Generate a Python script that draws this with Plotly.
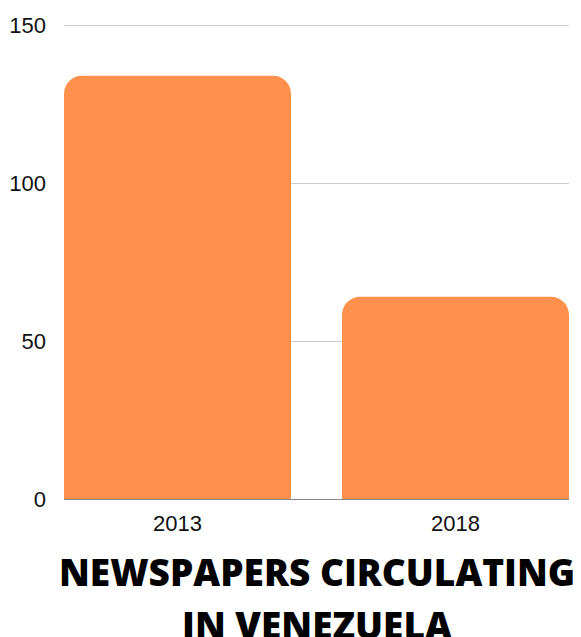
import plotly.graph_objects as go

years = ["2013", "2018"]
newspapers = [134, 64]
y_ticks = [0, 50, 100, 150]
title_lines = ["NEWSPAPERS CIRCULATING", "IN VENEZUELA"]

fig = go.Figure(go.Bar(
    x=years, y=newspapers,
    marker=dict(color="#FF914D", line=dict(width=0)),
    width=0.8165,
))

fig.update_layout(
    width=573, height=629,
    margin=dict(l=56, r=12, t=14, b=138),
    paper_bgcolor="white", plot_bgcolor="white",
    barcornerradius=18,
    showlegend=False,
    font=dict(family="Liberation Sans, Arial, sans-serif", size=22, color="#111111"),
)
fig.update_xaxes(
    type="category", range=[-0.4083, 1.4083], automargin=False,
    showline=True, linecolor="#888888", linewidth=1,
    showgrid=False, ticks="", ticklabelstandoff=5,
    tickfont=dict(size=22, color="#111111"),
)
fig.update_yaxes(
    range=[0, 151], tickvals=y_ticks, automargin=False,
    showgrid=True, gridcolor="#cccccc", gridwidth=1,
    zeroline=False, showline=False, ticks="", ticklabelstandoff=17,
    tickfont=dict(size=22, color="#111111"),
)
title_y = [-0.153, -0.2625]
for line, yy in zip(title_lines, title_y):
    fig.add_annotation(
        text=line,
        xref="paper", yref="paper", x=0.5, y=yy, xanchor="center", yanchor="middle",
        showarrow=False, align="center",
        font=dict(family="Open Sans, sans-serif", size=37, color="black", weight=800),
    )
fig.write_html("out.html")
